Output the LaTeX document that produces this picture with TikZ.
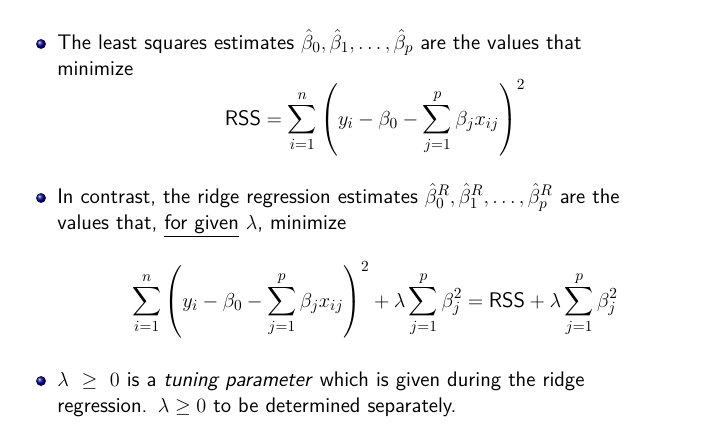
\documentclass[tikz,border=0pt]{standalone}
\usepackage{amsmath}
\begin{document}
\begin{tikzpicture}[x=0.025cm,y=-0.025cm,
  txt/.style={anchor=base west,inner sep=0pt,text width=580*0.025cm,align=left,font=\sffamily\fontsize{15}{19}\selectfont,execute at begin node={\hyphenpenalty=10000\relax}},
  eq/.style={inner sep=0pt,font=\fontsize{15}{19}\selectfont},
  bul/.style={circle,minimum size=7pt,inner sep=0pt,shading=ball,ball color=blue!55!black}]
\useasboundingbox (0,0) rectangle (706,435);
\node[bul] (b1) at (41,44) {};
\node[txt] (t1) at (57,49) {The least squares estimates $\hat\beta_0,\hat\beta_1,\ldots,\hat\beta_p$ are the values that minimize};
\node[eq] (e1) at (375,118) {$\displaystyle \textsf{RSS}=\sum_{i=1}^{n}\left(y_i-\beta_0-\sum_{j=1}^{p}\beta_jx_{ij}\right)^2$};
\node[bul] (b2) at (41,198) {};
\node[txt] (t2) at (57,203) {In contrast, the ridge regression estimates $\hat\beta^R_0,\hat\beta^R_1,\ldots,\hat\beta^R_p$ are the values that, \underline{for given} $\lambda$, minimize};
\node[eq] (e2) at (375,300) {$\displaystyle \sum_{i=1}^{n}\left(y_i-\beta_0-\sum_{j=1}^{p}\beta_jx_{ij}\right)^2+\lambda\sum_{j=1}^{p}\beta_j^2=\textsf{RSS}+\lambda\sum_{j=1}^{p}\beta_j^2$};
\node[bul] (b3) at (41,381) {};
\node[txt] (t3) at (57,386) {$\lambda\geq0$ is a \textit{tuning parameter} which is given during the ridge regression. $\lambda\geq0$ to be determined separately.};
\end{tikzpicture}
\end{document}
